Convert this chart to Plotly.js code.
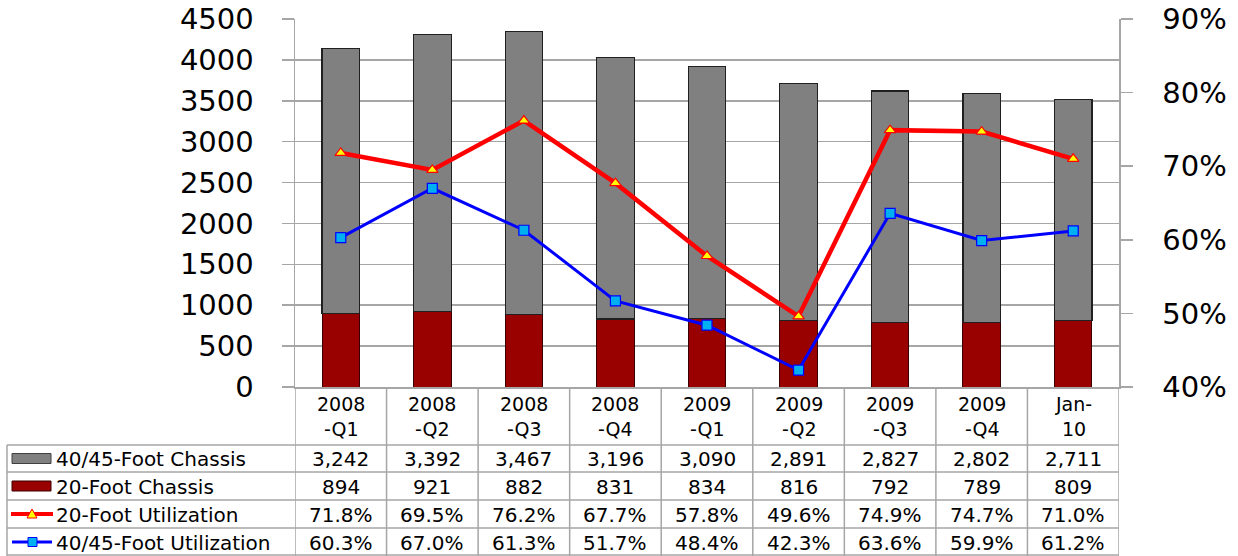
<!DOCTYPE html>
<html>
<head>
<meta charset="utf-8">
<script src="https://cdn.plot.ly/plotly-3.0.1.min.js"></script>
<style>html,body{margin:0;padding:0;background:#fff;}#chart{width:1238px;height:556px;}</style>
</head>
<body>
<div id="chart"></div>
<script>
const categories = ["2008-Q1","2008-Q2","2008-Q3","2008-Q4","2009-Q1","2009-Q2","2009-Q3","2009-Q4","Jan-10"];
const headerLabels = ["2008<br>-Q1","2008<br>-Q2","2008<br>-Q3","2008<br>-Q4","2009<br>-Q1","2009<br>-Q2","2009<br>-Q3","2009<br>-Q4","Jan-<br>10"];
const chassis40 = [3242,3392,3467,3196,3090,2891,2827,2802,2711];
const chassis20 = [894,921,882,831,834,816,792,789,809];
const util20 = [0.718,0.695,0.762,0.677,0.578,0.496,0.749,0.747,0.710];
const util40 = [0.603,0.670,0.613,0.517,0.484,0.423,0.636,0.599,0.612];
const seriesNames = ["40/45-Foot Chassis","20-Foot Chassis","20-Foot Utilization","40/45-Foot Utilization"];

const W = 1238, H = 556;
const L = 295, R = 1119, T = 19, B = 387;
const PW = R - L, PH = B - T;
const px = v => (v - L) / PW;
const py = v => (B - v) / PH;
const FONT = "DejaVu Sans, Verdana, sans-serif";
const GRID = "#a6a6a6";

const xIdx = categories.map((c,i)=>i);

const traces = [
  {type:"bar", name:seriesNames[1], x:xIdx, y:chassis20, marker:{color:"#990000", line:{color:"#3a0000", width:1}}, width:0.41, hoverinfo:"y"},
  {type:"bar", name:seriesNames[0], x:xIdx, y:chassis40, marker:{color:"#808080", line:{color:"#202020", width:1.2}}, width:0.41, hoverinfo:"y"},
  {type:"scatter", mode:"lines+markers", name:seriesNames[2], x:xIdx, y:util20, yaxis:"y2",
   line:{color:"#ff0000", width:4.5}, marker:{symbol:"triangle-up", size:10, color:"#ffff00", line:{color:"#ff0000", width:1.2}}},
  {type:"scatter", mode:"lines+markers", name:seriesNames[3], x:xIdx, y:util40, yaxis:"y2",
   line:{color:"#0000ff", width:3}, marker:{symbol:"square", size:10, color:"#00b0f0", line:{color:"#0000ff", width:1.2}}}
];

const shapes = [];
const annotations = [];
const rowLines = [445, 472, 500, 528, 555];
rowLines.forEach(y => shapes.push({type:"line", xref:"paper", yref:"paper", x0:px(7), x1:1, y0:py(y), y1:py(y), line:{color:GRID, width:1.5}, layer:"above"}));
for (let k = 0; k <= categories.length; k++) {
  shapes.push({type:"line", xref:"x", yref:"paper", x0:k-0.5, x1:k-0.5, y0:0, y1:py(556), line:{color:GRID, width:1.5}});
}
shapes.push({type:"line", xref:"paper", yref:"paper", x0:px(7), x1:px(7), y0:py(445), y1:py(556), line:{color:GRID, width:1.5}});

const rowCenters = [458.5, 486, 514, 542];
// legend keys
shapes.push({type:"rect", xref:"paper", yref:"paper", x0:px(12), x1:px(51), y0:py(rowCenters[0]-5), y1:py(rowCenters[0]+5), fillcolor:"#808080", line:{color:"#404040", width:1}});
shapes.push({type:"rect", xref:"paper", yref:"paper", x0:px(12), x1:px(51), y0:py(rowCenters[1]-5), y1:py(rowCenters[1]+5), fillcolor:"#990000", line:{color:"#3a0000", width:1}});
shapes.push({type:"line", xref:"paper", yref:"paper", x0:px(11), x1:px(53), y0:py(rowCenters[2]), y1:py(rowCenters[2]), line:{color:"#ff0000", width:4}});
shapes.push({type:"path", xref:"paper", yref:"paper",
  path:`M ${px(27)} ${py(rowCenters[2]+4)} L ${px(37)} ${py(rowCenters[2]+4)} L ${px(32)} ${py(rowCenters[2]-5)} Z`,
  fillcolor:"#ffff00", line:{color:"#ff0000", width:1}});
shapes.push({type:"line", xref:"paper", yref:"paper", x0:px(12), x1:px(52), y0:py(rowCenters[3]), y1:py(rowCenters[3]), line:{color:"#0000ff", width:3}});
shapes.push({type:"rect", xref:"paper", yref:"paper", x0:px(28), x1:px(37), y0:py(rowCenters[3]-4.5), y1:py(rowCenters[3]+4.5), fillcolor:"#00b0f0", line:{color:"#0000ff", width:1}});

const tf = {family:FONT, size:20, color:"#000"};
seriesNames.forEach((n,r) => annotations.push({xref:"paper", yref:"paper", x:px(54), y:py(rowCenters[r]+1), text:n, showarrow:false, xanchor:"left", yanchor:"middle", font:tf}));

const fmtInt = v => v.toLocaleString("en-US");
const fmtPct = v => (v*100).toFixed(1) + "%";
const rows = [chassis40.map(fmtInt), chassis20.map(fmtInt), util20.map(fmtPct), util40.map(fmtPct)];
categories.forEach((c,i) => {
  annotations.push({xref:"x", yref:"paper", x:i, y:py(416), text:headerLabels[i], showarrow:false, xanchor:"center", yanchor:"middle", font:{family:FONT, size:19, color:"#000"}});
  rows.forEach((row,r) => annotations.push({xref:"x", yref:"paper", x:i, y:py(rowCenters[r]+1), text:row[i], showarrow:false, xanchor:"center", yanchor:"middle", font:tf}));
});

const layout = {
  width:W, height:H,
  margin:{l:L, r:W-R, t:T, b:H-B, pad:0},
  paper_bgcolor:"#fff", plot_bgcolor:"#fff",
  barmode:"stack", bargap:0.59,
  showlegend:false,
  font:{family:FONT, color:"#000"},
  xaxis:{range:[-0.5, categories.length-0.5], showticklabels:false, showgrid:false, zeroline:false, showline:true, linecolor:GRID, linewidth:1.5, ticks:"", fixedrange:true},
  yaxis:{range:[0,4500], dtick:500, showgrid:true, gridcolor:GRID, gridwidth:1.5, zeroline:false, showline:true, linecolor:GRID, linewidth:1.5,
         ticks:"outside", ticklen:12, tickcolor:GRID, tickwidth:1.5, tickfont:{family:FONT, size:29, color:"#000"}, ticklabelstandoff:22},
  yaxis2:{overlaying:"y", side:"right", range:[0.4,0.9], dtick:0.1, tickformat:".0%", showgrid:false, zeroline:false, showline:true, linecolor:GRID, linewidth:1.5,
         ticks:"outside", ticklen:12, tickcolor:GRID, tickwidth:1.5, tickfont:{family:FONT, size:29, color:"#000"}, ticklabelstandoff:24},
  shapes:shapes, annotations:annotations
};

Plotly.newPlot("chart", traces, layout, {displayModeBar:false, staticPlot:true});
</script>
</body>
</html>
